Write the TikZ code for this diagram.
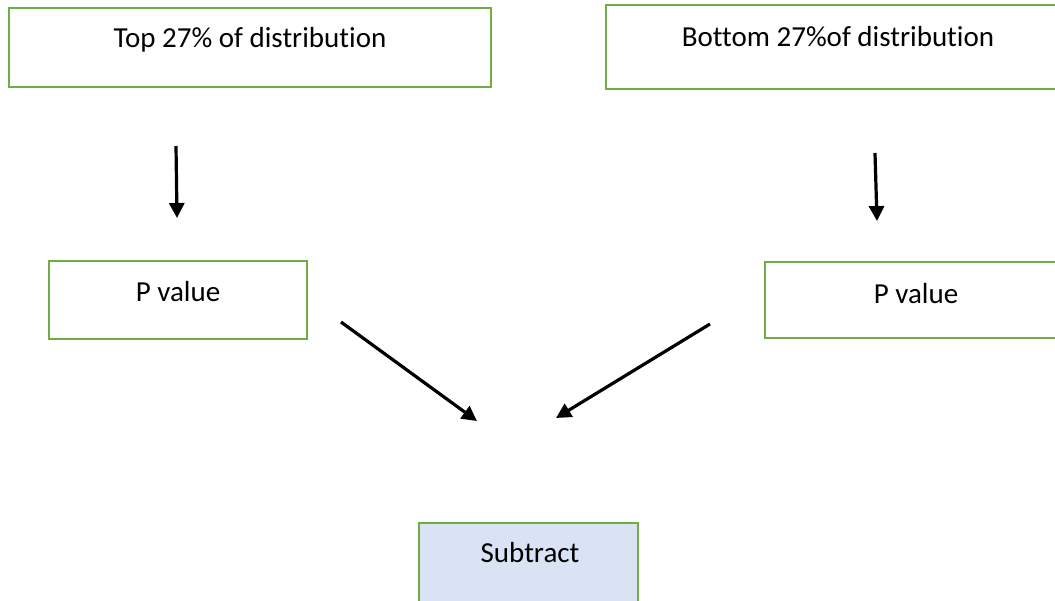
\documentclass[tikz,border=0pt]{standalone}
\usepackage{fontspec}
\setmainfont[Ligatures={NoCommon},RawFeature={-liga;-dlig}]{Carlito}
\usetikzlibrary{arrows.meta}
\definecolor{boxgreen}{HTML}{70AD47}
\definecolor{boxblue}{HTML}{DAE3F3}
\tikzset{
  box/.style={draw=boxgreen, line width=2.5pt, rectangle, inner sep=0pt},
  lbl/.style={font=\fontsize{29}{32}\selectfont, inner sep=0pt, anchor=center},
  arr/.style={line width=3.2pt, -{Triangle[length=15pt,width=15pt]}},
}
\begin{document}
\begin{tikzpicture}[x=1pt,y=-1pt]
\useasboundingbox (0,0) rectangle (1055,600);
\clip (0,0) rectangle (1055,600);
% boxes
\node[box, minimum width=482pt, minimum height=79pt] (top) at (250,47.5) {};
\node[box, minimum width=460pt, minimum height=84pt] (bot) at (836,47) {};
\node[box, minimum width=258pt, minimum height=78pt] (pl) at (178,300) {};
\node[box, minimum width=300pt, minimum height=76pt] (pr) at (915,300) {};
\node[box, fill=boxblue, minimum width=219pt, minimum height=84pt] (sub) at (528.5,565) {};
% texts
\node[lbl] (ttop) at (250,40) {Top 27\% of distribution};
\node[lbl] (tbot) at (838,37) {Bottom 27\%of distribution};
\node[lbl] (tpl) at (178,292) {P value};
\node[lbl] (tpr) at (916,294) {P value};
\node[lbl] (tsub) at (530,553) {Subtract};
% arrows
\coordinate (a1s) at (176,146); \coordinate (a1e) at (177,218);
\coordinate (a2s) at (875,153); \coordinate (a2e) at (877,221);
\coordinate (a3s) at (341,322); \coordinate (a3e) at (477,421);
\coordinate (a4s) at (710,324); \coordinate (a4e) at (556,418);
\draw[arr] (a1s) -- (a1e);
\draw[arr] (a2s) -- (a2e);
\draw[arr] (a3s) -- (a3e);
\draw[arr] (a4s) -- (a4e);
\end{tikzpicture}
\end{document}
